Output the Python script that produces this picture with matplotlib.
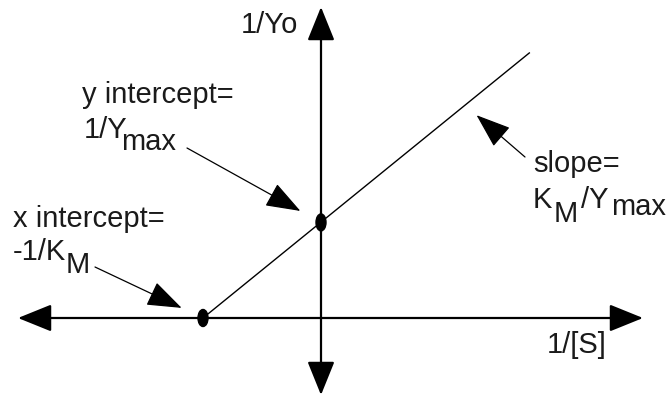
import matplotlib
matplotlib.use("Agg")
import matplotlib.pyplot as plt
from matplotlib.patches import Ellipse

# --- DATA (Lineweaver-Burk plot, units: K_M = 1) ---
INV_S = [-1.0, 1.77]      # 1/[S] at line ends
INV_V = [0.0, 2.25]       # 1/Vo at line ends
X_INTERCEPT = -1.0        # -1/K_M
Y_INTERCEPT = 0.81        # 1/Vmax
SLOPE_POINT_X = 1.22      # where the slope arrow points on the line

# --- LAYOUT ---
W, H = 669, 397
OX, OY = 321, 318         # origin in pixels
UNIT = 118.0              # pixels per data unit
FONT = 'Liberation Sans'
FS = 21


def P(px, py):
    # pixel position -> data position (layout helper for labels)
    return ((px - OX) / UNIT, (OY - py) / UNIT)


fig = plt.figure(figsize=(W / 100, H / 100), dpi=100)
ax = fig.add_axes([0, 0, 1, 1])
ax.set_xlim(-OX / UNIT, (W - OX) / UNIT)
ax.set_ylim(-(H - OY) / UNIT, OY / UNIT)
ax.axis('off')

# axes with arrow heads
axis_style = '<|-|>,head_length=2.1,head_width=0.85'
ax.annotate('', xy=P(18, OY), xytext=P(643, OY),
            arrowprops=dict(arrowstyle=axis_style, mutation_scale=10,
                            shrinkA=0, shrinkB=0, lw=1.6, color='black'))
ax.annotate('', xy=P(OX, 395), xytext=P(OX, 7),
            arrowprops=dict(arrowstyle=axis_style, mutation_scale=10,
                            shrinkA=0, shrinkB=0, lw=1.6, color='black'))

# the line
ax.plot(INV_S, INV_V, color='black', lw=1.0, solid_capstyle='butt')

# intercept dots
for x, y in [(X_INTERCEPT, 0.0), (0.0, Y_INTERCEPT)]:
    ax.add_patch(Ellipse((x, y), 10 / UNIT, 17 / UNIT, color='black', zorder=5))

# annotation arrows
ann_style = '-|>,head_length=2.2,head_width=0.8'
ax.annotate('', xy=(X_INTERCEPT, 0.0), xytext=P(95, 267),
            arrowprops=dict(arrowstyle=ann_style, mutation_scale=10,
                            shrinkA=0, shrinkB=17, lw=0.9, color='black'))
ax.annotate('', xy=(0.0, Y_INTERCEPT), xytext=P(187, 148),
            arrowprops=dict(arrowstyle=ann_style, mutation_scale=10,
                            shrinkA=0, shrinkB=17, lw=0.9, color='black'))
slope_y = INV_V[0] + (INV_V[1] - INV_V[0]) / (INV_S[1] - INV_S[0]) * (SLOPE_POINT_X - INV_S[0])
ax.annotate('', xy=(SLOPE_POINT_X, slope_y), xytext=P(525, 157),
            arrowprops=dict(arrowstyle=ann_style, mutation_scale=10,
                            shrinkA=0, shrinkB=11, lw=0.9, color='black'))

# labels
labels = [
    ('1/Yo', 241, 33),
    ('x intercept=', 13, 227),
    ('-1/K', 13, 260),
    ('M', 66, 273),
    ('y intercept=', 82, 103),
    ('1/Y', 84, 138),
    ('max', 121, 150),
    ('slope=', 533, 172),
    ('K', 533, 208),
    ('M', 554, 222),
    ('/Y', 581, 208),
    ('max', 611, 215),
    ('1/[S]', 547, 353),
]
for txt, px, py in labels:
    ax.text(*P(px, py), txt, ha='left', va='baseline', fontsize=FS,
            family=FONT, color='#1a1a1a')

fig.savefig('out.png', dpi=100)
